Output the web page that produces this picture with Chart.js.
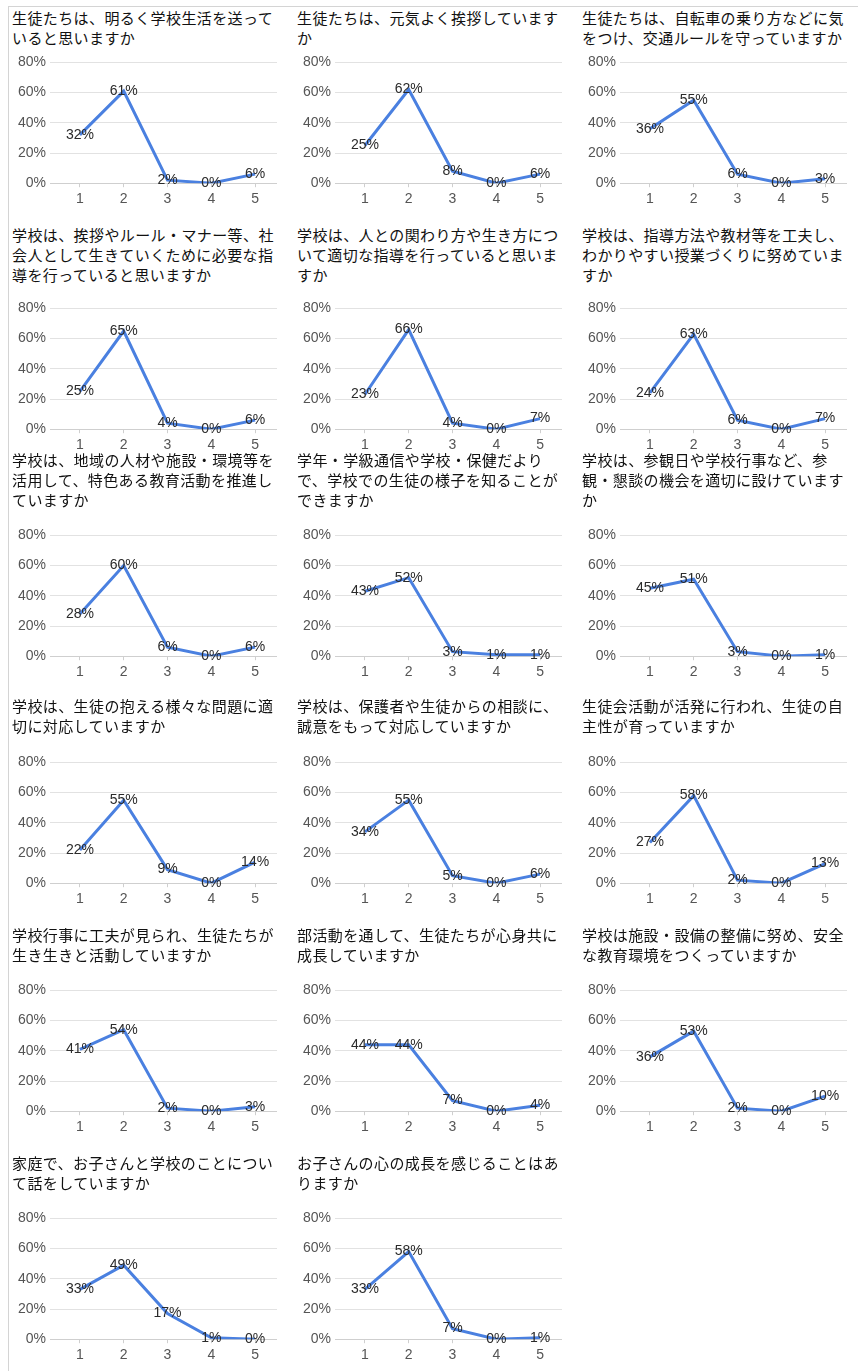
<!DOCTYPE html>
<html lang="ja">
<head>
<meta charset="UTF-8">
<title>学校評価アンケート結果</title>
<script src="https://cdn.jsdelivr.net/npm/chart.js"></script>
<style>
  body { margin: 0; background: #fff; }
  #page {
    position: relative;
    width: 858px;
    height: 1371px;
    overflow: hidden;
    font-family: "Noto Sans CJK JP", sans-serif;
  }
  /* thin frame on the top and left, like the original table */
  #page::before {
    content: ""; position: absolute; left: 8px; top: 6px; right: 0; height: 1px; background: #d4d4d4;
  }
  #page::after {
    content: ""; position: absolute; left: 8px; top: 6px; bottom: 0; width: 1px; background: #d4d4d4;
  }
  .title {
    position: absolute;
    width: 268px;
    font-size: 15px;
    line-height: 20px;
    letter-spacing: 0.4px;
    color: #111;
  }
  .box {
    position: absolute;
    width: 265px;
    height: 162px;
  }
</style>
</head>
<body>
<div id="page"></div>

<script>
// answer choices on the x axis and the y axis range (percent)
const choices = ['1', '2', '3', '4', '5'];
const yMax = 80;
const yStep = 20;

// questions, left to right, top to bottom
const questions = [
  '生徒たちは、明るく学校生活を送っていると思いますか',
  '生徒たちは、元気よく挨拶していますか',
  '生徒たちは、自転車の乗り方などに気をつけ、交通ルールを守っていますか',
  '学校は、挨拶やルール・マナー等、社会人として生きていくために必要な指導を行っていると思いますか',
  '学校は、人との関わり方や生き方について適切な指導を行っていると思いますか',
  '学校は、指導方法や教材等を工夫し、わかりやすい授業づくりに努めていますか',
  '学校は、地域の人材や施設・環境等を活用して、特色ある教育活動を推進していますか',
  '学年・学級通信や学校・保健だよりで、学校での生徒の様子を知ることができますか',
  '学校は、参観日や学校行事など、参観・懇談の機会を適切に設けていますか',
  '学校は、生徒の抱える様々な問題に適切に対応していますか',
  '学校は、保護者や生徒からの相談に、誠意をもって対応していますか',
  '生徒会活動が活発に行われ、生徒の自主性が育っていますか',
  '学校行事に工夫が見られ、生徒たちが生き生きと活動していますか',
  '部活動を通して、生徒たちが心身共に成長していますか',
  '学校は施設・設備の整備に努め、安全な教育環境をつくっていますか',
  '家庭で、お子さんと学校のことについて話をしていますか',
  'お子さんの心の成長を感じることはありますか'
];

// percentages per answer choice 1..5
const q1  = [32, 61, 2, 0, 6];
const q2  = [25, 62, 8, 0, 6];
const q3  = [36, 55, 6, 0, 3];
const q4  = [25, 65, 4, 0, 6];
const q5  = [23, 66, 4, 0, 7];
const q6  = [24, 63, 6, 0, 7];
const q7  = [28, 60, 6, 0, 6];
const q8  = [43, 52, 3, 1, 1];
const q9  = [45, 51, 3, 0, 1];
const q10 = [22, 55, 9, 0, 14];
const q11 = [34, 55, 5, 0, 6];
const q12 = [27, 58, 2, 0, 13];
const q13 = [41, 54, 2, 0, 3];
const q14 = [44, 44, 7, 0, 4];
const q15 = [36, 53, 2, 0, 10];
const q16 = [33, 49, 17, 1, 0];
const q17 = [33, 58, 7, 0, 1];

const results = [q1, q2, q3, q4, q5, q6, q7, q8, q9, q10, q11, q12, q13, q14, q15, q16, q17];

// layout: column x, and per row the title top and the y of the 80% gridline
const colX = [12, 297, 582];
const rowTitleTop = [8, 225, 450, 696, 925, 1153];
const rowGridTop = [61, 307, 534, 761, 989, 1217];

const tickFont = { family: '"Liberation Sans", Arial, sans-serif', size: 14 };

// writes the value on each point, centered on it
const pointLabels = {
  id: 'pointLabels',
  afterDatasetsDraw(chart) {
    const ctx = chart.ctx;
    const meta = chart.getDatasetMeta(0);
    const data = chart.data.datasets[0].data;
    ctx.save();
    ctx.font = '14px "Liberation Sans", Arial, sans-serif';
    ctx.fillStyle = '#2a2a2a';
    ctx.textAlign = 'center';
    ctx.textBaseline = 'middle';
    meta.data.forEach((pt, i) => {
      ctx.fillText(data[i] + '%', pt.x, pt.y);
    });
    ctx.restore();
  }
};

const page = document.getElementById('page');

questions.forEach((q, i) => {
  const row = Math.floor(i / 3);
  const col = i % 3;

  const title = document.createElement('div');
  title.className = 'title';
  title.textContent = q;
  title.style.left = colX[col] + 'px';
  title.style.top = rowTitleTop[row] + 'px';
  page.appendChild(title);

  const box = document.createElement('div');
  box.className = 'box';
  box.style.left = colX[col] + 'px';
  box.style.top = (rowGridTop[row] - 11) + 'px';
  const canvas = document.createElement('canvas');
  box.appendChild(canvas);
  page.appendChild(box);

  new Chart(canvas, {
    type: 'line',
    data: {
      labels: choices,
      datasets: [{
        data: results[i],
        borderColor: '#4a80e0',
        borderWidth: 3,
        pointRadius: 0,
        tension: 0,
        fill: false
      }]
    },
    options: {
      responsive: true,
      maintainAspectRatio: false,
      animation: false,
      layout: { padding: { top: 0, right: 0, bottom: 0, left: 0 } },
      plugins: {
        legend: { display: false },
        tooltip: { enabled: false }
      },
      scales: {
        x: {
          offset: true,
          grid: {
            drawOnChartArea: false,
            drawTicks: true,
            tickLength: 4,
            color: '#cfcfcf'
          },
          border: { display: true, color: '#cfcfcf' },
          ticks: { font: tickFont, color: '#555', padding: 4 }
        },
        y: {
          min: 0,
          max: yMax,
          afterFit: (scale) => { scale.width = 46; },
          grid: {
            color: (c) => c.tick && c.tick.value === 0 ? '#cfcfcf' : '#e2e2e2',
            tickLength: 8,
            drawTicks: true
          },
          border: { display: false },
          ticks: {
            stepSize: yStep,
            font: tickFont,
            color: '#555',
            padding: 4,
            callback: (v) => v + '%'
          }
        }
      }
    },
    plugins: [pointLabels]
  });
});
</script>
</body>
</html>
